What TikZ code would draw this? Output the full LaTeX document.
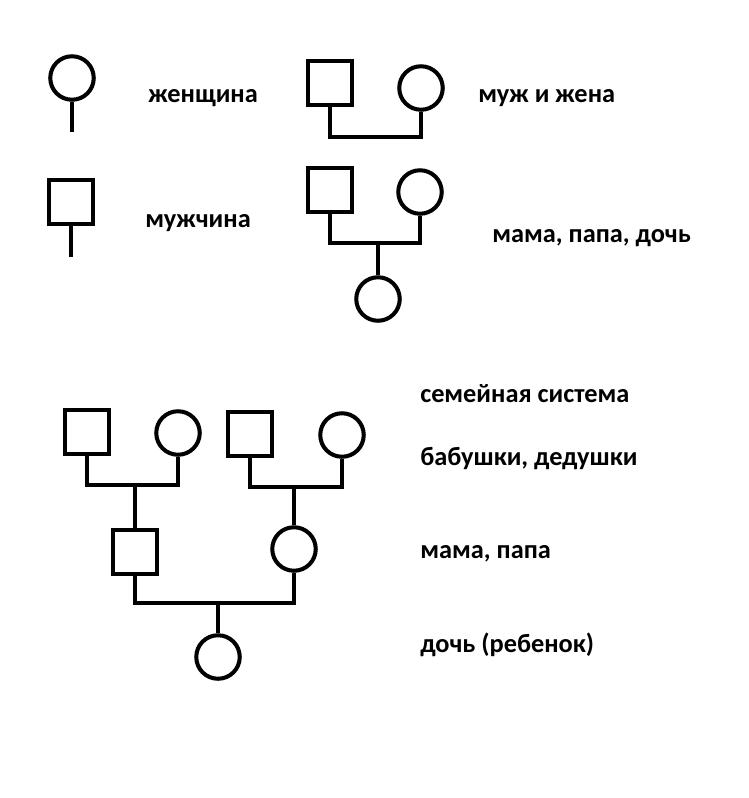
\documentclass[tikz,border=0pt]{standalone}
\usepackage{fontspec}
\setmainfont{Carlito}
\usetikzlibrary{positioning}

\begin{document}
\begin{tikzpicture}[
      x=0.02cm,y=-0.02cm,
      female/.style={circle,draw,line width=2.3pt,minimum size=0.87cm,inner sep=0pt},
      male/.style={rectangle,draw,line width=2.3pt,minimum size=0.87cm,inner sep=0pt},
      link/.style={line width=2.3pt},
      lbl/.style={anchor=base west,inner sep=0pt,font=\fontsize{15pt}{18pt}\selectfont\bfseries}
    ]
    \useasboundingbox (0,0) rectangle (748,798);
    % legend
    \node[female] (w) at (72,78) {};
    \coordinate (wend) at (72,132);
    \draw[link] (w.south) -- (wend);
    \node[lbl] (wtxt) at (148,102) {женщина};
    \node[male] (m) at (71,202) {};
    \coordinate (mend) at (71,257);
    \draw[link] (m.south) -- (mend);
    \node[lbl] (mtxt) at (145,227) {мужчина};
    % couple
    \node[male] (hus) at (330,83) {};
    \node[female] (wife) at (421,88) {};
    \coordinate (cpl) at (376,137);
    \draw[link] (hus.south) |- (cpl) -| (wife.south);
    \node[lbl] (cpltxt) at (478,102) {муж и жена};
    % small family
    \node[male] (papa) at (330,190) {};
    \node[female] (mama) at (420,192) {};
    \coordinate (fam) at (378,243);
    \draw[link] (papa.south) |- (fam) -| (mama.south);
    \node[female] (doch) at (378,299) {};
    \draw[link] (fam) -- (doch.north);
    \node[lbl] (famtxt) at (492,242) {мама, папа, дочь};
    % family system
    \node[male] (gf1) at (87,432) {};
    \node[female] (gm1) at (178,433) {};
    \node[male] (gf2) at (250,434) {};
    \node[female] (gm2) at (342,435) {};
    \coordinate (j1) at (135,485);
    \coordinate (j2) at (294,487);
    \draw[link] (gf1.south) |- (j1) -| (gm1.south);
    \draw[link] (gf2.south) |- (j2) -| (gm2.south);
    \node[male] (father) at (135,552) {};
    \node[female] (mother) at (294,549) {};
    \draw[link] (j1) -- (father.north);
    \draw[link] (j2) -- (mother.north);
    \coordinate (j3) at (218,603);
    \draw[link] (father.south) |- (j3) -| (mother.south);
    \node[female] (child) at (218,657) {};
    \draw[link] (j3) -- (child.north);
    \node[lbl] (systxt) at (420,402) {семейная система};
    \node[lbl] (gtxt) at (420,465) {бабушки, дедушки};
    \node[lbl] (ptxt) at (420,558) {мама, папа};
    \node[lbl] (ctxt) at (420,652) {дочь (ребенок)};
  \end{tikzpicture}
\end{document}
